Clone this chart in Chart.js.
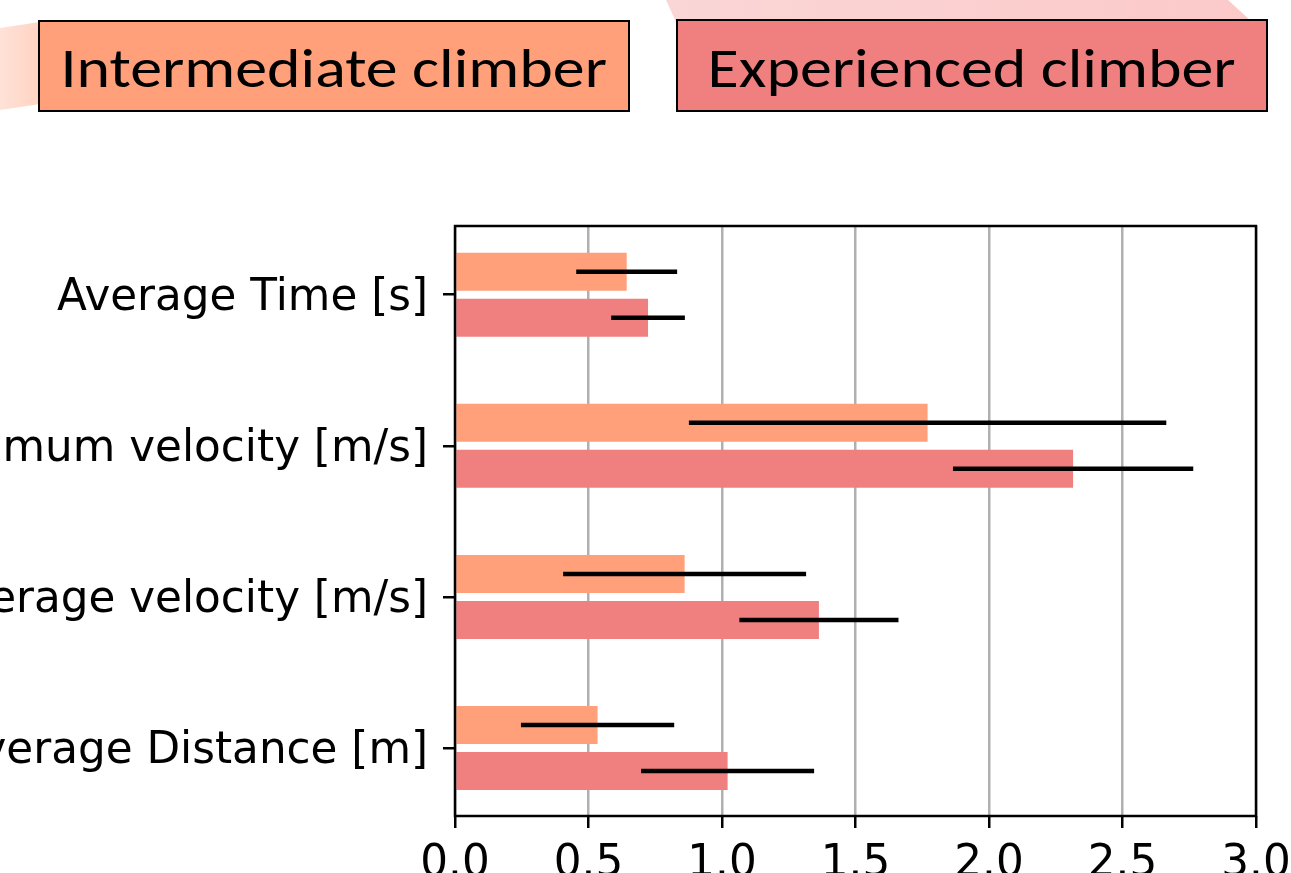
<!DOCTYPE html>
<html>
<head>
<meta charset="utf-8">
<script src="https://cdn.jsdelivr.net/npm/chart.js@4"></script>
<style>
  html, body { margin: 0; padding: 0; background: #fff; overflow: hidden; }
  #wrap { position: relative; width: 1291px; height: 873px; }
  #chart { position: absolute; left: 0; top: 0; }
  #decoL {
    position: absolute; left: 0; top: 18px; width: 40px; height: 92px;
    background: linear-gradient(to right, #ffe2d8, #ffd3c2);
    clip-path: polygon(0 10px, 40px 4px, 40px 86px, 0 92px);
  }
  #decoR {
    position: absolute; left: 666px; top: 0; width: 590px; height: 22px;
    background: linear-gradient(to right, #fad6d6, #fcc9c9);
    clip-path: polygon(0 0, 562px 0, 586px 22px, 10px 22px);
  }
  .tag {
    position: absolute; box-sizing: border-box; border: 2px solid #000;
    font-family: Carlito, Calibri, Lato, sans-serif; font-size: 56px; color: #000;
    display: flex; align-items: center; justify-content: center;
  }
  .tag span { display: inline-block; transform: scaleX(1.14); position: relative; top: 2px; }
</style>
</head>
<body>
<div id="wrap">
  <div id="decoL"></div>
  <div id="decoR"></div>
  <canvas id="chart" width="1291" height="873"></canvas>
  <div class="tag" id="tag0" style="left:38px; top:20px; width:592px; height:92px;"><span></span></div>
  <div class="tag" id="tag1" style="left:676px; top:19px; width:592px; height:93px;"><span></span></div>
</div>
<script>
const categories = ['Average Time [s]', 'Maximum velocity [m/s]', 'Average velocity [m/s]', 'Average Distance [m]'];
const seriesNames = ['Intermediate climber', 'Experienced climber'];
const seriesColors = ['#FFA07A', '#F08080'];

const interMean = [0.643, 1.770, 0.860, 0.534];
const interSd   = [0.189, 0.894, 0.455, 0.287];
const expMean   = [0.723, 2.315, 1.363, 1.021];
const expSd     = [0.138, 0.450, 0.298, 0.324];

const xTicks = [0, 0.5, 1.0, 1.5, 2.0, 2.5, 3.0];

const means = [interMean, expMean];
const sds = [interSd, expSd];

seriesNames.forEach((name, i) => {
    const tag = document.getElementById('tag' + i);
    tag.querySelector('span').textContent = name;
    tag.style.background = seriesColors[i];
});

const tickFont = { family: '"DejaVu Sans"', size: 43.7 };

const errorBars = {
    id: 'errorBars',
    afterDraw(chart) {
        const ctx = chart.ctx;
        const xs = chart.scales.x;
        ctx.save();
        ctx.strokeStyle = '#000';
        ctx.lineWidth = 4.5;
        ctx.lineCap = 'butt';
        chart.data.datasets.forEach((ds, di) => {
            chart.getDatasetMeta(di).data.forEach((bar, i) => {
                const m = means[di][i], s = sds[di][i];
                ctx.beginPath();
                ctx.moveTo(xs.getPixelForValue(m - s), bar.y);
                ctx.lineTo(xs.getPixelForValue(m + s), bar.y);
                ctx.stroke();
            });
        });
        // axes frame
        const a = chart.chartArea;
        ctx.lineWidth = 2.5;
        ctx.strokeRect(a.left, a.top, a.right - a.left, a.bottom - a.top);
        ctx.restore();
    }
};

const data = {
    datasets: seriesNames.map((name, di) => ({
        label: name,
        data: means[di].map((v, i) => ({ x: v, y: i })),
        backgroundColor: seriesColors[di],
        borderWidth: 0,
        categoryPercentage: 0.609,
        barPercentage: 0.826
    }))
};

const config = {
    type: 'bar',
    data: data,
    options: {
        indexAxis: 'y',
        responsive: false,
        animation: false,
        layout: { padding: { top: 226, right: 35, left: 0, bottom: 0 } },
        plugins: {
            legend: { display: false },
            tooltip: { enabled: false }
        },
        scales: {
            x: {
                type: 'linear',
                min: 0,
                max: 3,
                z: 1,
                afterBuildTicks: axis => { axis.ticks = xTicks.map(v => ({ value: v })); },
                afterFit: axis => { axis.height = 57; axis.paddingLeft = 0; axis.paddingRight = 0; },
                ticks: {
                    font: tickFont,
                    color: '#000',
                    padding: 10,
                    maxRotation: 0,
                    callback: v => Number(v).toFixed(1)
                },
                grid: {
                    color: '#b0b0b0',
                    lineWidth: 2.5,
                    tickColor: '#000',
                    tickLength: 12
                },
                border: { display: false }
            },
            y: {
                type: 'linear',
                reverse: true,
                offset: false,
                min: -0.455,
                max: 3.45,
                afterBuildTicks: axis => { axis.ticks = categories.map((c, i) => ({ value: i })); },
                afterFit: axis => { axis.width = 455; axis.paddingTop = 0; axis.paddingBottom = 0; },
                ticks: {
                    font: tickFont,
                    color: '#000',
                    padding: 15,
                    labelOffset: 4,
                    callback: v => categories[v]
                },
                grid: {
                    offset: false,
                    drawOnChartArea: false,
                    color: '#000',
                    lineWidth: 2.5,
                    tickLength: 12
                },
                border: { display: false }
            }
        }
    },
    plugins: [errorBars]
};

const ctx = document.getElementById('chart').getContext('2d');
new Chart(ctx, config);
</script>
</body>
</html>
